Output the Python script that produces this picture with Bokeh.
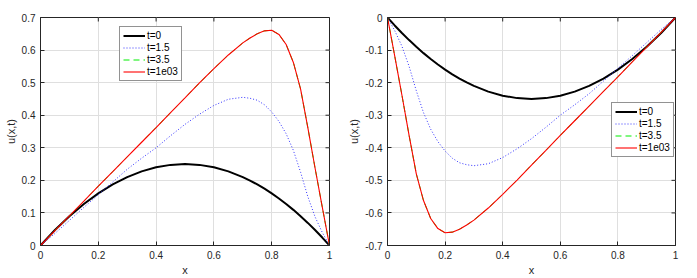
import math
from bokeh.plotting import figure
from bokeh.models import ColumnDataSource, FixedTicker, CustomJSTickFormatter, Legend, LegendItem, Range1d
from bokeh.layouts import row
from bokeh.embed import file_html
from bokeh.resources import INLINE

# ---- data ----
x_left = [0, .05, .1, .15, .2, .25, .3, .35, .4, .45, .5, .55, .6, .65, .7, .725, .75, .775, .8,
          .825, .85, .875, .9, .925, .95, .975, 1]
t0_left = [0, .0475, .09, .1275, .16, .1875, .21, .2275, .24, .2475, .25, .2475, .24, .2275, .21,
           .1994, .1875, .1744, .16, .1444, .1275, .1094, .09, .0694, .0475, .0244, 0]
t15_left = [0, .037, .077, .117, .156, .195, .234, .268, .300, .337, .372, .403, .430, .449, .455,
            .452, .446, .432, .410, .381, .343, .292, .225, .150, .088, .040, 0]
t35_left = [0, .0455, .091, .136, .182, .227, .272, .317, .362, .408, .453, .499, .543, .585, .622,
            .637, .650, .659, .661, .648, .617, .562, .480, .362, .238, .118, 0]
t1e3_left = [0, .0455, .091, .136, .182, .227, .272, .317, .362, .408, .453, .499, .543, .585, .622,
             .637, .650, .659, .661, .648, .617, .562, .480, .362, .238, .118, 0]

x_right = [0, .025, .05, .075, .1, .125, .15, .175, .2, .225, .25, .275, .3, .35, .4, .45, .5, .55,
           .6, .65, .7, .75, .8, .85, .9, .95, 1]
t0_right = [0, -.0244, -.0475, -.0694, -.09, -.1094, -.1275, -.1444, -.16, -.1744, -.1875, -.1994,
            -.21, -.2275, -.24, -.2475, -.25, -.2475, -.24, -.2275, -.21, -.1875, -.16, -.1275,
            -.09, -.0475, 0]
t15_right = [0, -.040, -.088, -.150, -.225, -.292, -.343, -.381, -.410, -.432, -.446, -.452, -.455,
             -.449, -.430, -.403, -.372, -.337, -.300, -.268, -.234, -.195, -.156, -.117, -.077,
             -.037, 0]
t35_right = [0, -.118, -.238, -.362, -.480, -.562, -.617, -.648, -.661, -.659, -.650, -.637, -.622,
             -.585, -.543, -.499, -.453, -.408, -.362, -.317, -.272, -.227, -.182, -.136, -.091,
             -.0455, 0]
t1e3_right = [0, -.118, -.238, -.362, -.480, -.562, -.617, -.648, -.661, -.659, -.650, -.637, -.622,
              -.585, -.543, -.499, -.453, -.408, -.362, -.317, -.272, -.227, -.182, -.136, -.091,
              -.0455, 0]

labels = ["t=0", "t=1.5", "t=3.5", "t=1e03"]
x_ticks = [0, 0.2, 0.4, 0.6, 0.8, 1]
y_ticks_left = [0, 0.1, 0.2, 0.3, 0.4, 0.5, 0.6, 0.7]
y_ticks_right = [0, -0.1, -0.2, -0.3, -0.4, -0.5, -0.6, -0.7]

FONT = "Liberation Sans"
AX = "#262626"
fmt_code = "return Number(tick.toFixed(2)).toString();"


def style_axis(ax, label):
    ax.axis_line_color = AX
    ax.major_tick_line_color = AX
    ax.major_tick_in = 4
    ax.major_tick_out = 0
    ax.minor_tick_line_color = None
    ax.major_label_text_font = FONT
    ax.major_label_text_font_size = "10px"
    ax.major_label_text_color = AX
    ax.formatter = CustomJSTickFormatter(code=fmt_code)
    ax.axis_label = label
    ax.axis_label_text_font = FONT
    ax.axis_label_text_font_size = "11px"
    ax.axis_label_text_font_style = "normal"
    ax.axis_label_text_color = AX


def make_plot(xs, ys_list, yr, yticks, width, bl, br, legend_loc, y_edge):
    p = figure(width=width, height=278, output_backend="svg", toolbar_location=None,
               x_range=Range1d(0, 1), y_range=Range1d(*yr),
               min_border_left=bl, min_border_right=br, min_border_top=17, min_border_bottom=32)
    p.outline_line_color = AX
    p.background_fill_color = "white"
    p.border_fill_color = "white"
    p.xaxis.ticker = FixedTicker(ticks=x_ticks)
    p.yaxis.ticker = FixedTicker(ticks=yticks)
    style_axis(p.xaxis[0], "x")
    style_axis(p.yaxis[0], "u(x,t)")
    p.xaxis.major_label_standoff = 5
    p.xaxis.axis_label_standoff = 2
    p.yaxis.major_label_standoff = 5
    p.yaxis.axis_label_standoff = 2
    p.xgrid.ticker = FixedTicker(ticks=x_ticks)
    p.ygrid.ticker = FixedTicker(ticks=yticks)
    p.grid.grid_line_color = "#dfdfdf"
    p.grid.grid_line_width = 1

    # inward tick marks on the top and right edges of the box (clipped to the frame)
    p.scatter(x=[1] * len(yticks), y=yticks, marker="dash", size=8, line_color=AX, line_width=1)
    p.scatter(x=x_ticks, y=[y_edge] * len(x_ticks), marker="dash", size=8, angle=math.pi / 2,
              line_color=AX, line_width=1)

    src = ColumnDataSource(dict(x=xs, a=ys_list[0], b=ys_list[1], c=ys_list[2], d=ys_list[3]))
    r0 = p.line("x", "a", source=src, line_color="black", line_width=2)
    r1 = p.line("x", "b", source=src, line_color="#3333ff", line_width=1, line_dash="1 2")
    r2 = p.line("x", "c", source=src, line_color="#00ee00", line_width=1, line_dash="6 4")
    r3 = p.line("x", "d", source=src, line_color="#ff0000", line_width=1.1)

    leg = Legend(items=[LegendItem(label=labels[i], renderers=[r]) for i, r in enumerate([r0, r1, r2, r3])],
                 location=legend_loc)
    leg.label_text_font = FONT
    leg.label_text_font_size = "10px"
    leg.label_text_color = "black"
    leg.glyph_width = 22
    leg.glyph_height = 11
    leg.label_height = 11
    leg.label_standoff = 2
    leg.spacing = 1
    leg.padding = 3
    leg.margin = 0
    leg.border_line_color = AX
    leg.border_line_width = 1
    leg.background_fill_alpha = 1
    p.add_layout(leg, "center")
    return p


p1 = make_plot(x_left, [t0_left, t15_left, t35_left, t1e3_left], (0, 0.7), y_ticks_left,
               345, 40, 16, (79, 164), 0.7)
p2 = make_plot(x_right, [t0_right, t15_right, t35_right, t1e3_right], (-0.7, 0), y_ticks_right,
               350, 41, 20, (224, 88), 0)

layout = row(p1, p2)
open("out.html", "w").write(file_html(layout, INLINE))
